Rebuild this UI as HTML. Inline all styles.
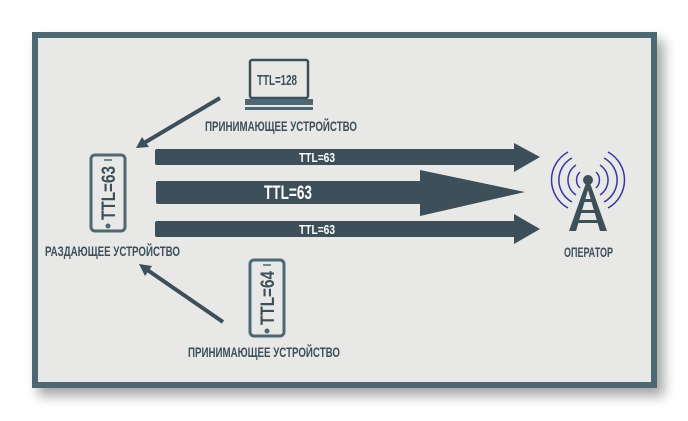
<!DOCTYPE html>
<html><head><meta charset="utf-8"><style>
html,body{margin:0;padding:0;background:#fff;}
svg{display:block;}
text{font-family:"Liberation Sans Narrow","Liberation Sans",sans-serif;font-weight:bold;fill:#3d4f59;}
</style></head><body>
<svg width="688" height="421" viewBox="0 0 688 421" xmlns="http://www.w3.org/2000/svg">
<defs><filter id="sh" x="-10%" y="-10%" width="130%" height="130%"><feGaussianBlur stdDeviation="6"/></filter></defs>
<rect x="38" y="40" width="626" height="356" fill="#000" opacity="0.35" filter="url(#sh)"/>
<rect x="32" y="32" width="625" height="356" fill="#4d6773"/>
<rect x="38" y="38" width="613" height="344" fill="#e8e9e6"/>
<!-- laptop -->
<rect x="250" y="60" width="58" height="38" rx="2" fill="none" stroke="#3d4f59" stroke-width="2.5"/>
<text x="257" y="85" font-size="15" textLength="40" lengthAdjust="spacingAndGlyphs">TTL=128</text>
<rect x="245" y="99" width="68" height="6" fill="#4d6773"/>
<rect x="245" y="107" width="68" height="3" fill="#4d6773"/>
<text x="205" y="131" font-size="14" textLength="152" lengthAdjust="spacingAndGlyphs">ПРИНИМАЮЩЕЕ УСТРОЙСТВО</text>
<!-- arrow top-left -->
<line x1="220" y1="98" x2="144" y2="143" stroke="#3d4f59" stroke-width="4"/>
<polygon points="136,148 142,137 149,147" fill="#3d4f59"/>
<!-- left phone -->
<rect x="91" y="155" width="34" height="76" rx="4" fill="none" stroke="#4d6773" stroke-width="3"/>
<line x1="104" y1="160" x2="112" y2="160" stroke="#4d6773" stroke-width="1.5"/>
<circle cx="108" cy="226" r="2.5" fill="#4d6773"/>
<text transform="translate(115,193) rotate(-90)" font-size="19" text-anchor="middle" textLength="54" lengthAdjust="spacingAndGlyphs">TTL=63</text>
<text x="45" y="256" font-size="14" textLength="135" lengthAdjust="spacingAndGlyphs">РАЗДАЮЩЕЕ УСТРОЙСТВО</text>
<!-- arrows -->
<rect x="155" y="149" width="362" height="16" rx="2" fill="#3d4f59"/>
<polygon points="514,143 540,157 514,172" fill="#3d4f59"/>
<text x="299" y="162" font-size="13" style="fill:#fff" textLength="36" lengthAdjust="spacingAndGlyphs">TTL=63</text>
<rect x="156" y="181" width="268" height="23" rx="2" fill="#3d4f59"/>
<polygon points="420,170 525,192 420,216" fill="#3d4f59"/>
<text x="264" y="199" font-size="19" style="fill:#fff" textLength="48" lengthAdjust="spacingAndGlyphs">TTL=63</text>
<rect x="155" y="221" width="362" height="16" rx="2" fill="#3d4f59"/>
<polygon points="514,214 540,229 514,244" fill="#3d4f59"/>
<text x="299" y="234" font-size="13" style="fill:#fff" textLength="36" lengthAdjust="spacingAndGlyphs">TTL=63</text>
<!-- antenna -->
<g fill="none" stroke="#3a35a0" stroke-width="1.5">
<path d="M580,172 A11,11 0 0,0 580,188"/><path d="M596,172 A11,11 0 0,1 596,188"/>
<path d="M576,165 A18,18 0 0,0 576,195"/><path d="M600,165 A18,18 0 0,1 600,195"/>
<path d="M572,158 A25,25 0 0,0 572,202"/><path d="M604,158 A25,25 0 0,1 604,202"/>
<path d="M568,152 A32,32 0 0,0 568,208"/><path d="M608,152 A32,32 0 0,1 608,208"/>
</g>
<circle cx="588" cy="180" r="5" fill="#3d4f59"/>
<polygon points="586,183 590,183 607,231 600,231 588,190 576,231 569,231" fill="#3d4f59"/>
<rect x="581" y="199" width="14" height="3" fill="#3d4f59"/>
<rect x="578" y="210" width="20" height="3" fill="#3d4f59"/>
<rect x="575" y="220" width="26" height="3" fill="#3d4f59"/>
<text x="564" y="257" font-size="14" textLength="49" lengthAdjust="spacingAndGlyphs">ОПЕРАТОР</text>
<!-- bottom phone -->
<rect x="250" y="260" width="34" height="76" rx="4" fill="none" stroke="#4d6773" stroke-width="3"/>
<line x1="263" y1="265" x2="271" y2="265" stroke="#4d6773" stroke-width="1.5"/>
<circle cx="267" cy="331" r="2.5" fill="#4d6773"/>
<text transform="translate(274,298) rotate(-90)" font-size="19" text-anchor="middle" textLength="54" lengthAdjust="spacingAndGlyphs">TTL=64</text>
<text x="188" y="357" font-size="14" textLength="152" lengthAdjust="spacingAndGlyphs">ПРИНИМАЮЩЕЕ УСТРОЙСТВО</text>
<!-- arrow bottom-left -->
<line x1="223" y1="322" x2="146" y2="269" stroke="#3d4f59" stroke-width="4"/>
<polygon points="139,264 152,266 145,276" fill="#3d4f59"/>
</svg>
</body></html>
